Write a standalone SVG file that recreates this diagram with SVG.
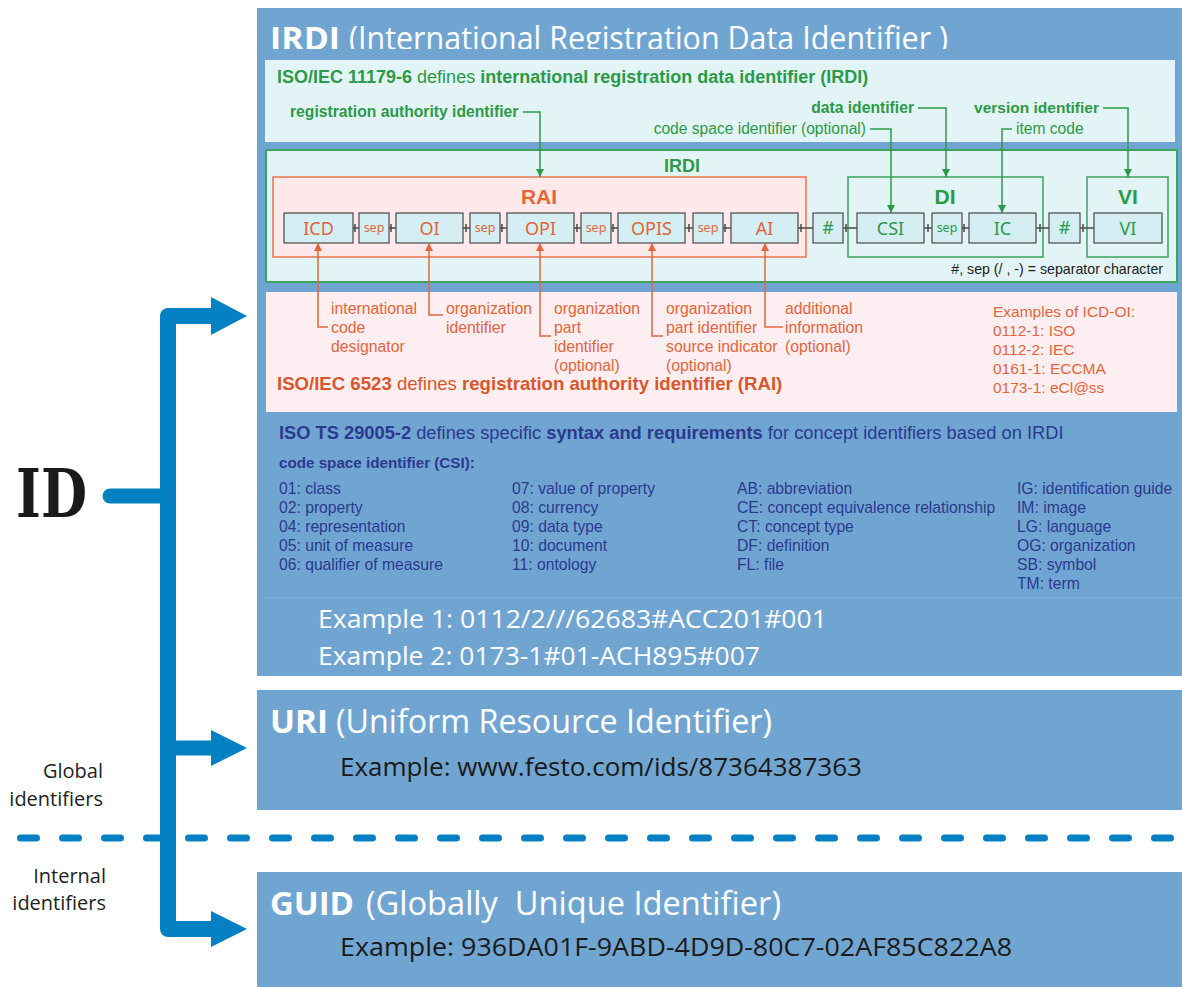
<svg xmlns="http://www.w3.org/2000/svg" width="1182" height="987" viewBox="0 0 1182 987">
<defs>
<style>
.panel{fill:#71a5d1}
.ttl{font-family:"Open Sans","Noto Sans",sans-serif;fill:#ffffff}
.ex{font-family:"Open Sans","Noto Sans",sans-serif;font-size:26px}
.lbl{font-family:"Open Sans","Noto Sans",sans-serif;font-size:20px;fill:#222222;text-anchor:end}
.sh{font-family:"Liberation Sans",Arial,sans-serif}
.g{fill:#2c9a48}
.o{fill:#e2663a}
.ob{fill:#d9572a}
.b{fill:#2c3990}
.el{fill:#d5eef3;stroke:#555555;stroke-width:1.3}
.elt{font-family:"Noto Sans","Open Sans",sans-serif;font-size:18px;text-anchor:middle}
.sept{font-family:"Noto Sans","Open Sans",sans-serif;font-size:12.5px;text-anchor:middle}
.gl{fill:none;stroke:#2c9a48;stroke-width:1.5}
.ol{fill:none;stroke:#e2663a;stroke-width:1.5}
.cn{fill:none;stroke:#4a4a4a;stroke-width:1.5}
.blue{fill:none;stroke:#0580c2;stroke-linejoin:round}
</style>
<marker id="ag" viewBox="0 0 10 10" refX="10" refY="5" markerWidth="8" markerHeight="8" markerUnits="userSpaceOnUse" orient="auto"><path d="M0,0 L10,5 L0,10 z" fill="#2c9a48"/></marker>
<marker id="ao" viewBox="0 0 10 10" refX="10" refY="5" markerWidth="8" markerHeight="8" markerUnits="userSpaceOnUse" orient="auto"><path d="M0,0 L10,5 L0,10 z" fill="#e2663a"/></marker>
<clipPath id="tclip"><rect x="257" y="0" width="925" height="49"/></clipPath>
</defs>
<rect width="1182" height="987" fill="#ffffff"/>

<!-- IRDI panel -->
<g id="irdi">
<rect class="panel" x="257" y="8" width="925" height="668"/>
<g clip-path="url(#tclip)">
<text class="ttl" x="270" y="50" font-size="33" font-weight="bold" textLength="70" lengthAdjust="spacingAndGlyphs">IRDI</text>
<text class="ttl" x="349" y="50" font-size="33" textLength="599" lengthAdjust="spacingAndGlyphs">(International Registration Data Identifier )</text>
</g>
<line x1="265" y1="598" x2="1182" y2="598" stroke="#80b0d8" stroke-width="1"/>

<!-- top definition box -->
<g id="irdi-def">
<rect x="265" y="60" width="910" height="82" fill="#e2f4f6"/>
<text class="sh g" x="277" y="83" font-size="18"><tspan font-weight="bold">ISO/IEC 11179-6</tspan> defines <tspan font-weight="bold">international registration data identifier (IRDI)</tspan></text>
<text class="sh g" x="290" y="117" font-size="15.7" font-weight="bold">registration authority identifier</text>
<text class="sh g" x="914" y="113" font-size="15.7" font-weight="bold" text-anchor="end">data identifier</text>
<text class="sh g" x="1099" y="113" font-size="15.5" font-weight="bold" text-anchor="end">version identifier</text>
<text class="sh g" x="866" y="134" font-size="15.6" text-anchor="end">code space identifier (optional)</text>
<text class="sh g" x="1016" y="134" font-size="15.6">item code</text>
</g>

<!-- structure box -->
<g id="irdi-structure">
<rect x="266" y="150" width="911" height="132" fill="#e2f4f6" stroke="#3ca35c" stroke-width="2"/>
<text class="sh g" x="682" y="172" font-size="18" font-weight="bold" text-anchor="middle">IRDI</text>
<rect x="273" y="177" width="533" height="80" fill="#fde8ea" stroke="#e8734f" stroke-width="1.5"/>
<text class="sh o" x="539" y="204" font-size="21" font-weight="bold" text-anchor="middle">RAI</text>
<rect x="848" y="177" width="195" height="80" fill="none" stroke="#3ca35c" stroke-width="1.5"/>
<text class="sh g" x="945" y="204" font-size="21" font-weight="bold" text-anchor="middle">DI</text>
<rect x="1087" y="177" width="81" height="80" fill="none" stroke="#3ca35c" stroke-width="1.5"/>
<text class="sh g" x="1128" y="204" font-size="21" font-weight="bold" text-anchor="middle">VI</text>
<text class="sh" x="1163" y="274" font-size="14.2" fill="#222222" text-anchor="end">#, sep (/ , -) = separator character</text>
</g>

<g id="el-icd"><rect class="el" x="284" y="213" width="69" height="30"/><text class="elt o" x="318.5" y="234.5">ICD</text></g>
<g id="el-sep1"><rect class="el" x="359" y="213" width="30" height="30"/><text class="sept o" x="374" y="232">sep</text></g>
<g id="el-oi"><rect class="el" x="396" y="213" width="67" height="30"/><text class="elt o" x="429.5" y="234.5">OI</text></g>
<g id="el-sep2"><rect class="el" x="470" y="213" width="30" height="30"/><text class="sept o" x="485" y="232">sep</text></g>
<g id="el-opi"><rect class="el" x="507" y="213" width="67" height="30"/><text class="elt o" x="540.5" y="234.5">OPI</text></g>
<g id="el-sep3"><rect class="el" x="581" y="213" width="30" height="30"/><text class="sept o" x="596" y="232">sep</text></g>
<g id="el-opis"><rect class="el" x="618" y="213" width="67" height="30"/><text class="elt o" x="651.5" y="234.5">OPIS</text></g>
<g id="el-sep4"><rect class="el" x="693" y="213" width="30" height="30"/><text class="sept o" x="708" y="232">sep</text></g>
<g id="el-ai"><rect class="el" x="731" y="213" width="67" height="30"/><text class="elt o" x="764.5" y="234.5">AI</text></g>
<g id="el-hash1"><rect class="el" x="813" y="213" width="30" height="30"/><text class="elt g" x="828" y="234" font-size="16">#</text></g>
<g id="el-csi"><rect class="el" x="857" y="213" width="67" height="30"/><text class="elt g" x="890.5" y="234.5">CSI</text></g>
<g id="el-sep5"><rect class="el" x="932" y="213" width="30" height="30"/><text class="sept g" x="947" y="232">sep</text></g>
<g id="el-ic"><rect class="el" x="969" y="213" width="67" height="30"/><text class="elt g" x="1002.5" y="234.5">IC</text></g>
<g id="el-hash2"><rect class="el" x="1049" y="213" width="31" height="30"/><text class="elt g" x="1064.5" y="234" font-size="16">#</text></g>
<g id="el-vi"><rect class="el" x="1094" y="213" width="68" height="30"/><text class="elt g" x="1128" y="234.5">VI</text></g>

<!-- pink RAI box -->
<g id="rai-def">
<rect x="266" y="292" width="911" height="120" fill="#fdeef1"/>
<text class="sh o" font-size="15.8"><tspan x="331" y="314">international</tspan><tspan x="331" y="333">code</tspan><tspan x="331" y="352">designator</tspan></text>
<text class="sh o" font-size="15.8"><tspan x="446" y="314">organization</tspan><tspan x="446" y="333">identifier</tspan></text>
<text class="sh o" font-size="15.8"><tspan x="554" y="314">organization</tspan><tspan x="554" y="333">part</tspan><tspan x="554" y="352">identifier</tspan><tspan x="554" y="371">(optional)</tspan></text>
<text class="sh o" font-size="15.8"><tspan x="666" y="314">organization</tspan><tspan x="666" y="333">part identifier</tspan><tspan x="666" y="352">source indicator</tspan><tspan x="666" y="371">(optional)</tspan></text>
<text class="sh o" font-size="15.8"><tspan x="785" y="314">additional</tspan><tspan x="785" y="333">information</tspan><tspan x="785" y="352">(optional)</tspan></text>
<text class="sh o" font-size="15.5"><tspan x="993" y="317">Examples of ICD-OI:</tspan><tspan x="993" y="336">0112-1: ISO</tspan><tspan x="993" y="355">0112-2: IEC</tspan><tspan x="993" y="374">0161-1: ECCMA</tspan><tspan x="993" y="393">0173-1: eCl@ss</tspan></text>
<text class="sh ob" x="277" y="390" font-size="18.6"><tspan font-weight="bold">ISO/IEC 6523</tspan> defines <tspan font-weight="bold">registration authority identifier (RAI)</tspan></text>
</g>

<!-- CSI list -->
<g id="csi-def">
<text class="sh b" x="279" y="439" font-size="18.3"><tspan font-weight="bold">ISO TS 29005-2</tspan> defines specific <tspan font-weight="bold">syntax and requirements</tspan> for concept identifiers based on IRDI</text>
<text class="sh b" x="279" y="468" font-size="15.2" font-weight="bold">code space identifier (CSI):</text>
<text class="sh b" font-size="15.7"><tspan x="279" y="494">01: class</tspan><tspan x="279" y="513">02: property</tspan><tspan x="279" y="532">04: representation</tspan><tspan x="279" y="551">05: unit of measure</tspan><tspan x="279" y="570">06: qualifier of measure</tspan></text>
<text class="sh b" font-size="15.7"><tspan x="512" y="494">07: value of property</tspan><tspan x="512" y="513">08: currency</tspan><tspan x="512" y="532">09: data type</tspan><tspan x="512" y="551">10: document</tspan><tspan x="512" y="570">11: ontology</tspan></text>
<text class="sh b" font-size="15.7"><tspan x="737" y="494">AB: abbreviation</tspan><tspan x="737" y="513">CE: concept equivalence relationship</tspan><tspan x="737" y="532">CT: concept type</tspan><tspan x="737" y="551">DF: definition</tspan><tspan x="737" y="570">FL: file</tspan></text>
<text class="sh b" font-size="15.7"><tspan x="1017" y="494">IG: identification guide</tspan><tspan x="1017" y="513">IM: image</tspan><tspan x="1017" y="532">LG: language</tspan><tspan x="1017" y="551">OG: organization</tspan><tspan x="1017" y="570">SB: symbol</tspan><tspan x="1017" y="589">TM: term</tspan></text>
</g>

<text class="ex" x="318" y="628" fill="#ffffff" textLength="509" lengthAdjust="spacingAndGlyphs">Example 1: 0112/2///62683#ACC201#001</text>
<text class="ex" x="318" y="665" fill="#ffffff" textLength="442" lengthAdjust="spacingAndGlyphs">Example 2: 0173-1#01-ACH895#007</text>
</g>

<!-- URI panel -->
<g id="uri">
<rect class="panel" x="257" y="690" width="925" height="120"/>
<text class="ttl" x="270" y="733" font-size="33" font-weight="bold" textLength="58" lengthAdjust="spacingAndGlyphs">URI</text>
<text class="ttl" x="336" y="733" font-size="33" textLength="436" lengthAdjust="spacingAndGlyphs">(Uniform Resource Identifier)</text>
<text class="ex" x="340" y="776" fill="#1a1a1a" textLength="522" lengthAdjust="spacingAndGlyphs">Example: www.festo.com/ids/87364387363</text>
</g>

<!-- GUID panel -->
<g id="guid">
<rect class="panel" x="257" y="872" width="925" height="115"/>
<text class="ttl" x="270" y="915" font-size="33" font-weight="bold" textLength="84" lengthAdjust="spacingAndGlyphs">GUID</text>
<text class="ttl" x="366" y="915" font-size="33" textLength="415" lengthAdjust="spacingAndGlyphs" xml:space="preserve">(Globally  Unique Identifier)</text>
<text class="ex" x="340" y="956" fill="#1a1a1a" textLength="672" lengthAdjust="spacingAndGlyphs">Example: 936DA01F-9ABD-4D9D-80C7-02AF85C822A8</text>
</g>

<!-- ID root and labels -->
<g id="id-root">
<text x="16" y="517" font-family="'DejaVu Serif',serif" font-weight="bold" font-size="68" fill="#1a1a1a" textLength="71" lengthAdjust="spacingAndGlyphs">ID</text>
</g>
<g id="label-global"><text class="lbl"><tspan x="103" y="778">Global</tspan><tspan x="103" y="806">identifiers</tspan></text></g>
<g id="label-internal"><text class="lbl"><tspan x="106" y="883">Internal</tspan><tspan x="106" y="910">identifiers</tspan></text></g>

<!-- connectors -->
<g id="connectors">
<g class="cn">
<path d="M353 228H359 M389 228H396 M463 228H470 M500 228H507 M574 228H581 M611 228H618 M685 228H693 M723 228H731 M798 228H813 M843 228H857 M924 228H932 M962 228H969 M1036 228H1049 M1080 228H1094"/>
<path d="M355 224V232 M391 224V232 M466 224V232 M502 224V232 M577 224V232 M613 224V232 M689 224V232 M725 224V232 M801 224V232 M846 224V232 M928 224V232 M964 224V232 M1040 224V232 M1083 224V232"/>
</g>
<path class="gl" d="M523 112H540V177" marker-end="url(#ag)"/>
<path class="gl" d="M918 108H946V177" marker-end="url(#ag)"/>
<path class="gl" d="M1103 108H1128V177" marker-end="url(#ag)"/>
<path class="gl" d="M870 129H891V213" marker-end="url(#ag)"/>
<path class="gl" d="M1012 129H1002V213" marker-end="url(#ag)"/>
<path class="ol" d="M328 327H318V243" marker-end="url(#ao)"/>
<path class="ol" d="M443 315H429V243" marker-end="url(#ao)"/>
<path class="ol" d="M551 336H540V243" marker-end="url(#ao)"/>
<path class="ol" d="M663 336H652V243" marker-end="url(#ao)"/>
<path class="ol" d="M783 327H765V243" marker-end="url(#ao)"/>
<line x1="20.5" y1="838" x2="1182" y2="838" stroke="#0580c2" stroke-width="7" stroke-linecap="round" stroke-dasharray="16 26"/>
<line x1="110" y1="496" x2="168" y2="496" stroke="#0580c2" stroke-width="15" stroke-linecap="round"/>
<path class="blue" d="M212 316H168V929H212" stroke-width="16"/>
<path class="blue" d="M168 748H212" stroke-width="15"/>
<polygon points="211,297 247,316 211,335" fill="#0580c2"/>
<polygon points="211,730 247,748 211,766" fill="#0580c2"/>
<polygon points="211,911 247,929 211,947" fill="#0580c2"/>
</g>
</svg>
